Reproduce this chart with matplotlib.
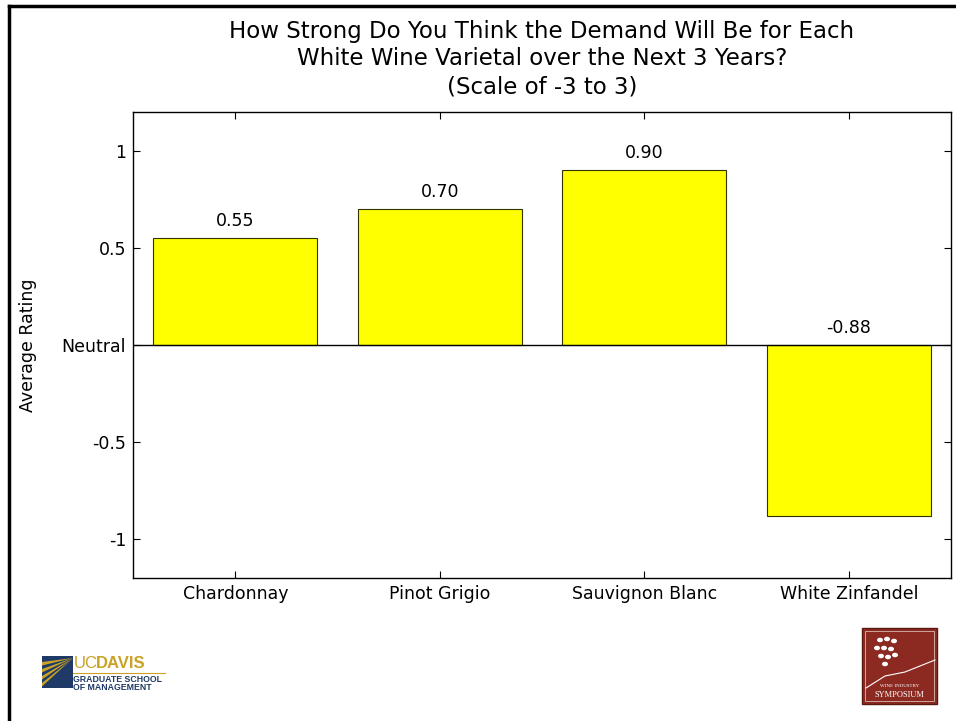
import matplotlib
matplotlib.use("Agg")
import matplotlib.pyplot as plt
from matplotlib.patches import Rectangle, Polygon
from matplotlib.lines import Line2D

plt.rcParams['font.family'] = ['DejaVu Sans']

categories = ["Chardonnay", "Pinot Grigio", "Sauvignon Blanc", "White Zinfandel"]
ratings = [0.55, 0.70, 0.90, -0.88]
ytick_values = [-1, -0.5, 0, 0.5, 1]
ytick_labels = ["-1", "-0.5", "Neutral", "0.5", "1"]
title = ("How Strong Do You Think the Demand Will Be for Each\n"
         "White Wine Varietal over the Next 3 Years?\n"
         "(Scale of -3 to 3)")

W, H = 956, 721
fig = plt.figure(figsize=(W / 100, H / 100), dpi=100)
fig.patch.set_facecolor("white")

ax = fig.add_axes([133 / W, 1 - 578 / H, (951 - 133) / W, (578 - 112) / H])
x = list(range(1, len(categories) + 1))
ax.bar(x, ratings, width=0.8, color="#FFFF00", edgecolor="#333300", linewidth=0.8, zorder=2)
ax.axhline(0, color="black", linewidth=1.0, zorder=3)

# value labels: above the bar top, or above the zero line for negative bars
for xi, v in zip(x, ratings):
    ax.annotate(f"{v:.2f}", (xi, max(v, 0)), xytext=(0, 6),
                textcoords="offset points", ha="center",
                va="bottom", fontsize=12.5)

ax.set_xlim(0.5, 4.5)
ax.set_ylim(-1.2, 1.2)
ax.set_xticks(x)
ax.set_xticklabels(categories, fontsize=12.5)
ax.set_yticks(ytick_values)
ax.set_yticklabels(ytick_labels, fontsize=12.5)
ax.tick_params(direction="in", length=5, width=0.8, top=True, right=True, pad=5)
ax.tick_params(axis="x", pad=5)
for s in ax.spines.values():
    s.set_linewidth(1.0)
ax.set_ylabel("Average Rating", fontsize=12.5, labelpad=18)
ax.set_title(title, fontsize=16.5, linespacing=1.27, pad=13.5)

# page border
fig.add_artist(Line2D([9 / W, 9 / W], [0, 1 - 6 / H], transform=fig.transFigure,
                      color="black", linewidth=2.5))
fig.add_artist(Line2D([9 / W, 1], [1 - 6 / H, 1 - 6 / H], transform=fig.transFigure,
                      color="black", linewidth=2.5))


def fx(px):
    return px / W


def fy(py):
    return 1 - py / H


# UC Davis emblem
navy = "#1F3A66"
gold = "#C9A227"
fig.add_artist(Rectangle((fx(42), fy(688)), fx(31), 32 / H, transform=fig.transFigure,
                         facecolor=navy, edgecolor="none"))
for k in range(4):
    y0 = 662 + k * 7
    fig.add_artist(Polygon([(fx(73), fy(658)), (fx(42), fy(y0)), (fx(42), fy(y0 + 3.5))],
                           closed=True, transform=fig.transFigure,
                           facecolor=gold, edgecolor="none"))
fig.text(fx(74), fy(664), "UC", color=gold, fontsize=12, family="Liberation Sans",
         va="center", ha="left")
fig.text(fx(96), fy(664), "DAVIS", color=gold, fontsize=12, fontweight="bold",
         family="Liberation Sans", va="center", ha="left")
fig.add_artist(Line2D([fx(73), fx(165)], [fy(673), fy(673)], transform=fig.transFigure,
                      color=gold, linewidth=0.8))
fig.text(fx(73), fy(679), "GRADUATE SCHOOL", color=navy, fontsize=6.3, fontweight="bold",
         family="Liberation Sans", va="center", ha="left")
fig.text(fx(73), fy(688), "OF MANAGEMENT", color=navy, fontsize=6.3, fontweight="bold",
         family="Liberation Sans", va="center", ha="left")

# Wine Industry Symposium emblem
maroon = "#8C2A22"
fig.add_artist(Rectangle((fx(862), fy(704)), fx(75), 76 / H, transform=fig.transFigure,
                         facecolor=maroon, edgecolor="#5A1A14", linewidth=1))
fig.add_artist(Rectangle((fx(865), fy(701)), fx(69), 70 / H, transform=fig.transFigure,
                         facecolor="none", edgecolor="#D8B8B0", linewidth=0.6))
grape = [(880, 640), (887, 639), (894, 641), (877, 648), (884, 648), (891, 649),
         (881, 656), (888, 657), (885, 664), (895, 655)]
for gx, gy in grape:
    fig.add_artist(plt.Circle((fx(gx), fy(gy)), 3 / W, transform=fig.transFigure,
                              facecolor="white", edgecolor="none"))
fig.add_artist(Line2D([fx(866), fx(885), fx(905), fx(935)], [fy(688), fy(676), fy(672), fy(660)],
                      transform=fig.transFigure, color="white", linewidth=0.8))
fig.text(fx(899.5), fy(686), "WINE INDUSTRY", color="white", fontsize=3.6,
         ha="center", va="center", family="Liberation Serif")
fig.text(fx(899.5), fy(695), "SYMPOSIUM", color="white", fontsize=6,
         ha="center", va="center", family="Liberation Serif")

fig.savefig("out.png", dpi=100, facecolor="white")
